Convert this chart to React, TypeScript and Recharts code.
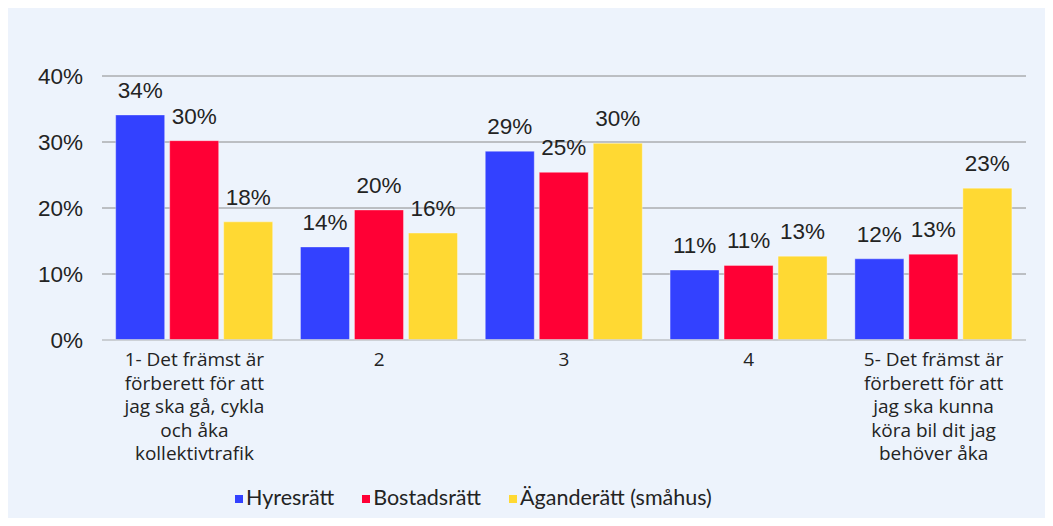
import { BarChart, Bar, XAxis, YAxis, CartesianGrid, LabelList, Legend } from 'recharts'

const categories = [
  '1- Det främst är\nförberett för att\njag ska gå, cykla\noch åka\nkollektivtrafik',
  '2',
  '3',
  '4',
  '5- Det främst är\nförberett för att\njag ska kunna\nköra bil dit jag\nbehöver åka',
]

const hyresratt = [34.1, 14.1, 28.6, 10.6, 12.3]
const bostadsratt = [30.2, 19.7, 25.4, 11.3, 13.0]
const aganderatt = [17.9, 16.2, 29.8, 12.7, 23.0]

const yTicks = [0, 10, 20, 30, 40]

const series = [
  { key: 'hyresratt', name: 'Hyresrätt', color: '#3341FF' },
  { key: 'bostadsratt', name: 'Bostadsrätt', color: '#FF0035' },
  { key: 'aganderatt', name: 'Äganderätt (småhus)', color: '#FFD933' },
]

const data = categories.map((category, i) => ({
  category,
  hyresratt: hyresratt[i],
  bostadsratt: bostadsratt[i],
  aganderatt: aganderatt[i],
}))

const TEXT = '#232323'
const NUM_FONT = 'Liberation Sans, Arial, sans-serif'

function CategoryTick({ x, y, payload }: any) {
  const lines = String(payload.value).split('\n')
  return (
    <text x={x} y={y} textAnchor="middle" fill={TEXT} fontSize={19} fontFamily="Open Sans, sans-serif">
      {lines.map((line, i) => (
        <tspan key={i} x={x} dy={i === 0 ? 18 : 23.5}>
          {line}
        </tspan>
      ))}
    </text>
  )
}

function LegendContent() {
  return (
    <div style={{ display: 'flex', alignItems: 'center', fontFamily: 'Lato, sans-serif', fontSize: 21.5, color: TEXT }}>
      {series.map((s) => (
        <div key={s.key} style={{ display: 'flex', alignItems: 'center', marginRight: 28 }}>
          <span style={{ width: 8, height: 8, background: s.color, marginRight: 3, marginTop: 3 }} />
          <span>{s.name}</span>
        </div>
      ))}
    </div>
  )
}

export default function App() {
  return (
    <div style={{ width: 1037, height: 510, background: '#EDF3FC' }}>
      <BarChart
        width={1037}
        height={510}
        data={data}
        margin={{ top: 68, right: 19, left: 14, bottom: 0 }}
        barCategoryGap="7.4%"
        barGap={5}
      >
        <CartesianGrid vertical={false} stroke="#8a8a8a" />
        <XAxis
          dataKey="category"
          tick={<CategoryTick />}
          tickLine={false}
          axisLine={{ stroke: '#cfd3d9', strokeWidth: 1.5 }}
          interval={0}
          height={152}
        />
        <YAxis
          domain={[0, 40]}
          ticks={yTicks}
          width={80}
          tickLine={false}
          axisLine={false}
          tickMargin={13}
          tickFormatter={(v) => `${v}%`}
          tick={{ fill: TEXT, fontSize: 22.5, fontFamily: NUM_FONT }}
        />
        <Legend content={<LegendContent />} wrapperStyle={{ top: 476, left: 227, width: 'auto' }} />
        {series.map((s) => (
          <Bar
            key={s.key}
            dataKey={s.key}
            name={s.name}
            fill={s.color}
            stroke="#ffffff"
            strokeOpacity={0.35}
            isAnimationActive={false}
          >
            <LabelList
              dataKey={s.key}
              position="top"
              offset={17}
              formatter={(v: any) => `${Math.round(Number(v))}%`}
              style={{ fill: TEXT, fontSize: 22.5, fontFamily: NUM_FONT }}
            />
          </Bar>
        ))}
      </BarChart>
    </div>
  )
}
